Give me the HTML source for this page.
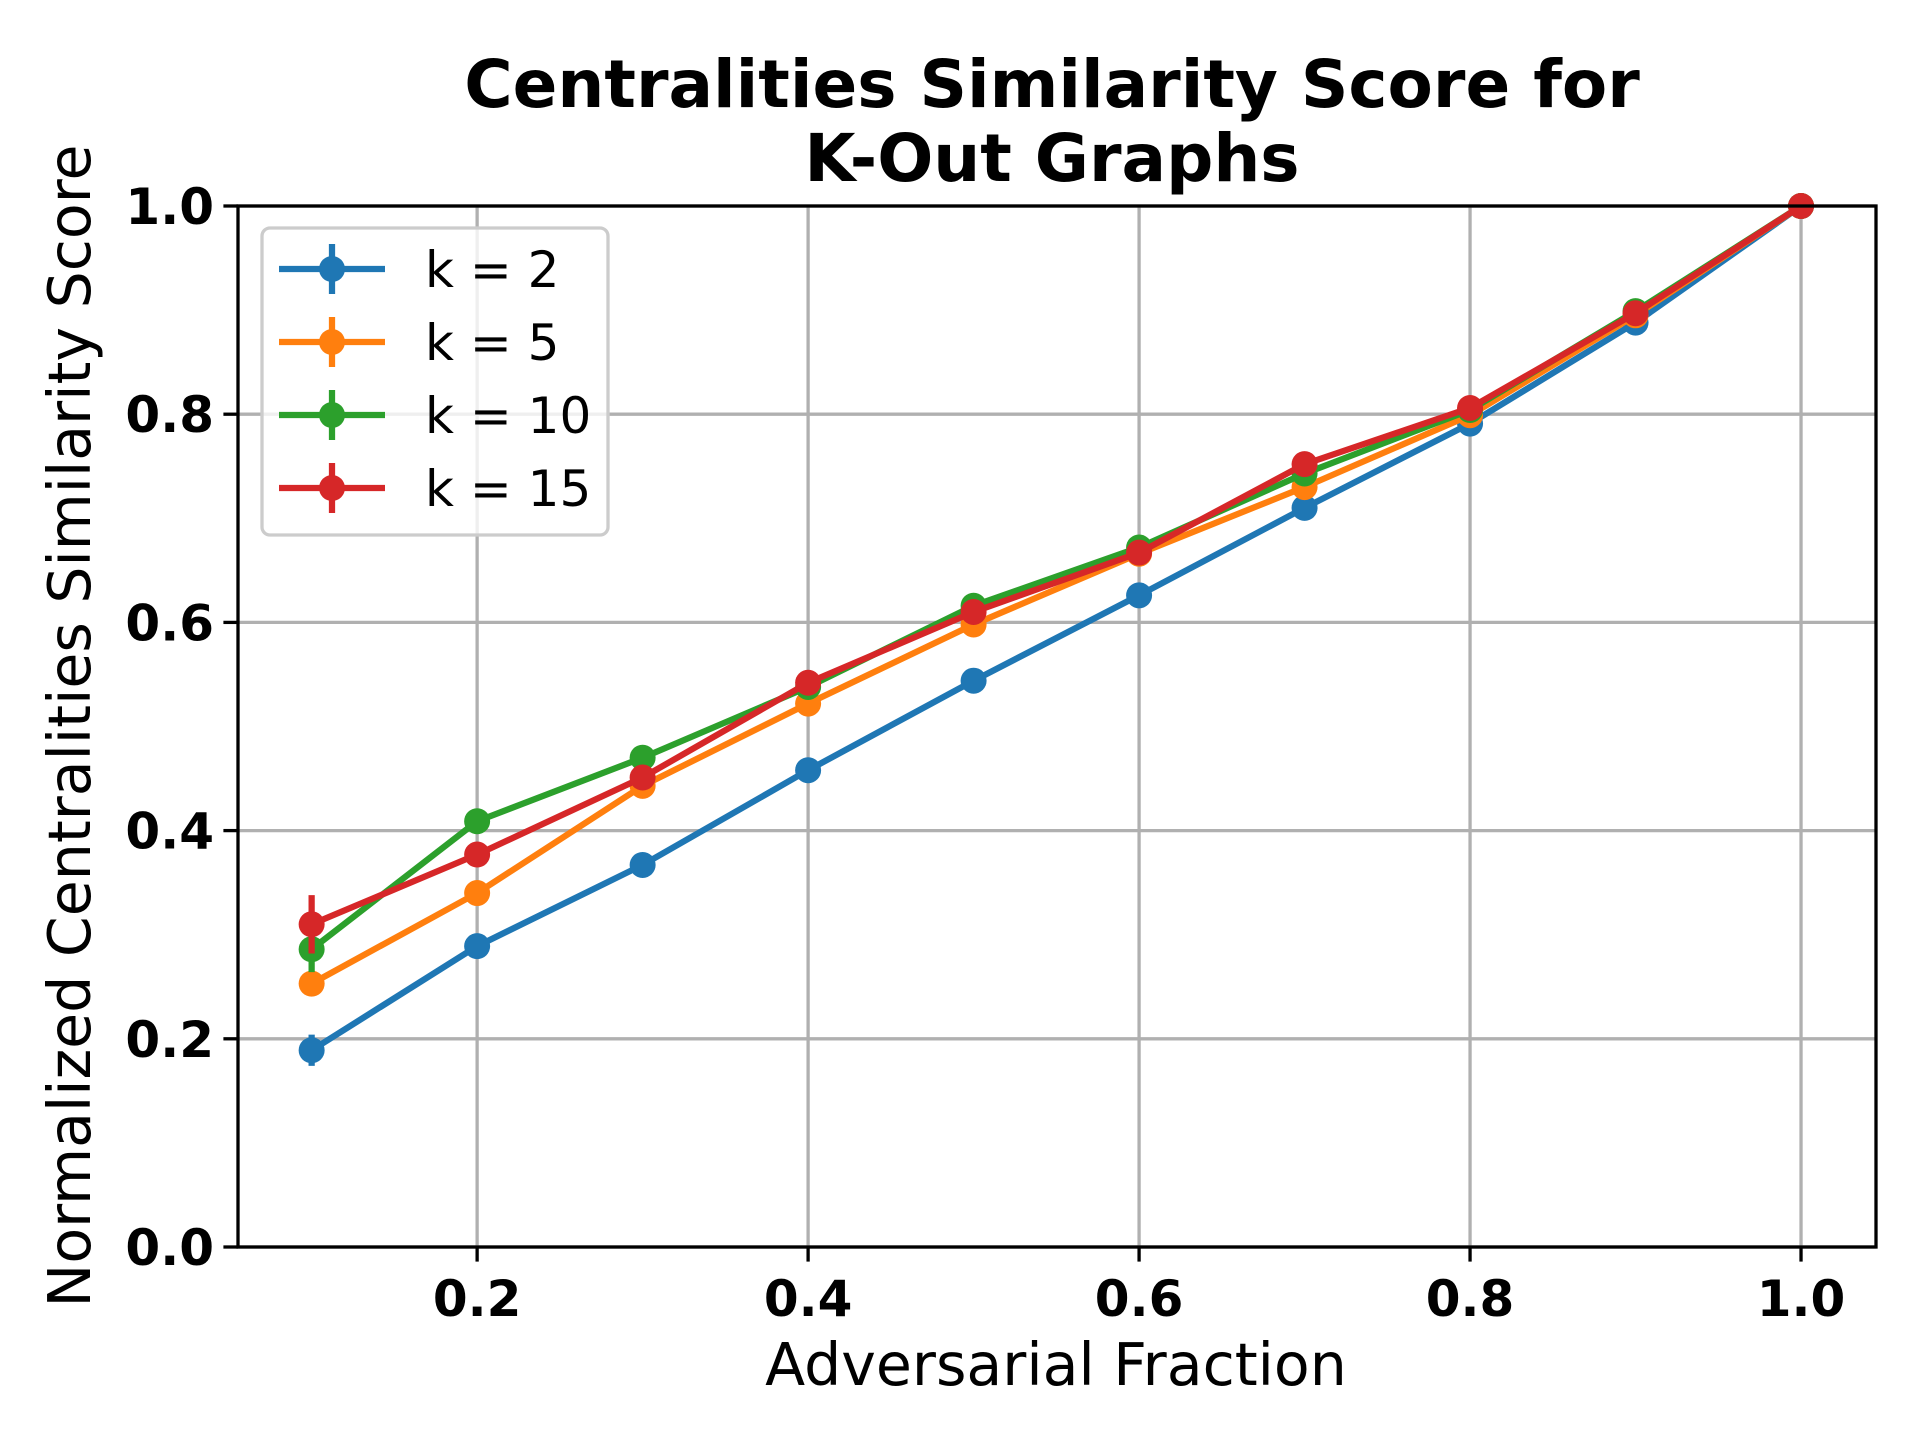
<!DOCTYPE html>
<html><head><meta charset="utf-8"><style>
html,body{margin:0;padding:0;background:#fff;}
svg{display:block;font-family:"DejaVu Sans","Liberation Sans",sans-serif;}
</style></head><body>
<svg id="chart" width="1920" height="1440" viewBox="0 0 1920 1440">
<rect width="1920" height="1440" fill="#fff"/>
<g id="grid"></g>
<g id="series"></g>
<rect x="238" y="206" width="1638" height="1041" fill="none" stroke="#000" stroke-width="3.3"/>
<g id="ticks"></g>
<text x="1052" y="107" text-anchor="middle" font-size="66" font-weight="bold">Centralities Similarity Score for</text>
<text x="1052" y="181" text-anchor="middle" font-size="66" font-weight="bold">K-Out Graphs</text>
<text x="1056" y="1385" text-anchor="middle" font-size="58.5">Adversarial Fraction</text>
<text transform="translate(90,726) rotate(-90)" text-anchor="middle" font-size="58.5">Normalized Centralities Similarity Score</text>
<g id="legend">
<rect x="262" y="228" width="346" height="307" rx="8" fill="#fff" fill-opacity="0.8" stroke="#ccc" stroke-width="3.3"/>
</g>
</svg>
<script>
const xs = [0.1,0.2,0.3,0.4,0.5,0.6,0.7,0.8,0.9,1.0];
const k2 = [0.189,0.289,0.367,0.458,0.544,0.626,0.710,0.791,0.888,1.0];
const k5 = [0.253,0.340,0.443,0.522,0.598,0.666,0.730,0.799,0.895,1.0];
const k10 = [0.286,0.409,0.470,0.538,0.616,0.672,0.743,0.804,0.899,1.0];
const k15 = [0.310,0.377,0.451,0.542,0.610,0.667,0.752,0.806,0.897,1.0];
const err2 = [0.015,0.005,0.005,0.005,0.005,0.005,0.005,0.005,0.005,0];
const err5 = [0.01,0.005,0.005,0.005,0.005,0.005,0.005,0.005,0.005,0];
const err10 = [0.022,0.01,0.005,0.005,0.005,0.005,0.005,0.005,0.005,0];
const err15 = [0.028,0.01,0.008,0.005,0.005,0.005,0.005,0.005,0.005,0];
const seriesNames = ["k = 2","k = 5","k = 10","k = 15"];
const xTicks = [0.2,0.4,0.6,0.8,1.0];
const yTicks = [0.0,0.2,0.4,0.6,0.8,1.0];
const xTickLabels = ["0.2","0.4","0.6","0.8","1.0"];
const yTickLabels = ["0.0","0.2","0.4","0.6","0.8","1.0"];

const NS="http://www.w3.org/2000/svg";
const X0=238,X1=1876,Y0=1247,Y1=206,XMIN=0.0555,XMAX=1.0453;
const sx=v=>X0+(v-XMIN)/(XMAX-XMIN)*(X1-X0);
const sy=v=>Y0-v*(Y0-Y1);
function mk(tag,attrs,parent){const e=document.createElementNS(NS,tag);for(const k in attrs)e.setAttribute(k,attrs[k]);parent.appendChild(e);return e;}
const grid=document.getElementById('grid'),ticks=document.getElementById('ticks'),ser=document.getElementById('series'),leg=document.getElementById('legend');
xTicks.forEach((t,i)=>{
  const g=mk('line',{x1:sx(t),x2:sx(t),y1:Y1,y2:Y0,stroke:'#b0b0b0','stroke-width':3.3},grid);
  
  
  const tk=mk('line',{x1:sx(t),x2:sx(t),y1:Y0,y2:Y0+14.6,stroke:'#000','stroke-width':3.3},ticks);
  
  
  const tl=mk('text',{x:sx(t),y:Y0+69,'text-anchor':'middle','font-size':50,'font-weight':'bold'},ticks);
  tl.textContent=xTickLabels[i];
  
  
});
yTicks.forEach((t,i)=>{
  const g=mk('line',{x1:X0,x2:X1,y1:sy(t),y2:sy(t),stroke:'#b0b0b0','stroke-width':3.3},grid);
  
  
  const tk=mk('line',{x1:X0-14.6,x2:X0,y1:sy(t),y2:sy(t),stroke:'#000','stroke-width':3.3},ticks);
  
  
  const tl=mk('text',{x:X0-24,y:sy(t)+18,'text-anchor':'end','font-size':50,'font-weight':'bold'},ticks);
  tl.textContent=yTickLabels[i];
  
  
});
const allY=[k2,k5,k10,k15],allE=[err2,err5,err10,err15];
const colors=['#1f77b4','#ff7f0e','#2ca02c','#d62728'];
allY.forEach((ys,s)=>{
  const g=mk('g',{},ser);
  
  
  const pl=mk('polyline',{points:xs.map((x,i)=>sx(x)+','+sy(ys[i])).join(' '),fill:'none',stroke:colors[s],'stroke-width':6.25,'stroke-linejoin':'round'},g);
  
  
  xs.forEach((x,i)=>{
    const eb=mk('line',{x1:sx(x),x2:sx(x),y1:sy(ys[i]-allE[s][i]),y2:sy(ys[i]+allE[s][i]),stroke:colors[s],'stroke-width':6.25},g);
    
    
    const c=mk('circle',{cx:sx(x),cy:sy(ys[i]),r:13,fill:colors[s]},g);
    
    
  });
  const ly=269+s*73;
  const le=mk('g',{},leg);
  
  
  mk('line',{x1:279,x2:385,y1:ly,y2:ly,stroke:colors[s],'stroke-width':6.25},le);
  mk('line',{x1:332,x2:332,y1:ly-25,y2:ly+25,stroke:colors[s],'stroke-width':6.25},le);
  mk('circle',{cx:332,cy:ly,r:13,fill:colors[s]},le);
  const t=mk('text',{x:425,y:ly+18,'font-size':50},le);
  t.textContent=seriesNames[s];
});
</script>
</body></html>
